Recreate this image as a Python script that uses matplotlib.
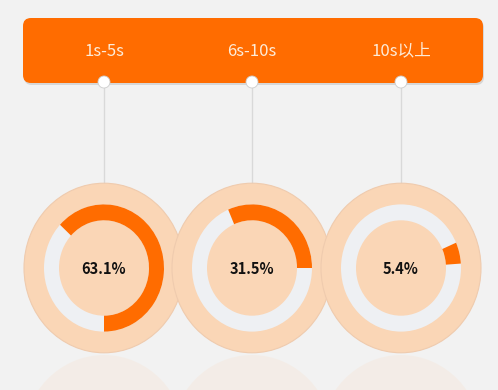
import matplotlib.pyplot as plt
from matplotlib.patches import Wedge, Circle, FancyBboxPatch, Ellipse
from matplotlib.transforms import Affine2D

# 数据
labels = ['1s-5s', '6s-10s', '10s以上']
values = [63.1, 31.5, 5.4]
# 每个圆环橙色弧段结束的位置（从12点顺时针的角度）
end_angles = [180, 90, 86]

bg = '#F2F2F2'
orange = '#FF6C00'
peach = '#FAD6B6'
ring_gray = '#EEF0F3'

fig = plt.figure(figsize=(4.98, 3.9), dpi=100, facecolor=bg)
ax = fig.add_axes([0, 0, 1, 1])
ax.set_xlim(0, 498)
ax.set_ylim(390, 0)
ax.axis('off')

centers_x = [104, 252, 401]
cy = 268
sy = 1.06  # 原图略微纵向拉伸

# 顶部橙色横条
shadow = FancyBboxPatch((24, 20), 460, 65, boxstyle='round,pad=0,rounding_size=8',
                        facecolor='#999999', edgecolor='none', alpha=0.3, zorder=1)
ax.add_patch(shadow)
banner = FancyBboxPatch((23, 18), 460, 65, boxstyle='round,pad=0,rounding_size=8',
                        facecolor=orange, edgecolor='none', zorder=2)
ax.add_patch(banner)

for i, (lab, v, ea) in enumerate(zip(labels, values, end_angles)):
    cx = centers_x[i]
    ax.text(cx, 51, lab, color='#FDEBD8', fontsize=12, ha='center', va='center',
            family=['Noto Sans CJK SC', 'DejaVu Sans'], zorder=5)
    # 连接线和圆点
    ax.plot([cx, cx], [82, cy - 85], color='#D9D9D9', lw=1, zorder=1)
    ax.add_patch(Circle((cx, 82), 6, facecolor='white', edgecolor='#CCCCCC', lw=0.6, zorder=6))

    tr = Affine2D().scale(1, sy).translate(cx, cy) + ax.transData
    # 倒影
    ax.add_patch(Ellipse((cx, cy + 2 * 85 + 2), 162, 170, facecolor=peach, edgecolor='none',
                         alpha=0.18, zorder=1))
    # 外圈
    ax.add_patch(Circle((0, 0), 80, facecolor=peach, edgecolor='#EFCBAE', lw=0.8,
                        transform=tr, zorder=2 + i * 0.1))
    # 灰色底环
    ax.add_patch(Wedge((0, 0), 60, 0, 360, width=15, facecolor=ring_gray, edgecolor='none',
                       transform=tr, zorder=3 + i * 0.1))
    # 橙色进度
    span = v / 100 * 360
    ax.add_patch(Wedge((0, 0), 60, ea - span - 90, ea - 90, width=15, facecolor=orange,
                       edgecolor='none', transform=tr, zorder=3.05 + i * 0.1))
    ax.text(cx, cy + 1, f'{v}%', fontsize=10.5, fontweight='bold', color='#111111',
            ha='center', va='center', family=['Noto Sans CJK SC', 'DejaVu Sans'], zorder=6)

fig.savefig('out.png', dpi=100, facecolor=bg)
